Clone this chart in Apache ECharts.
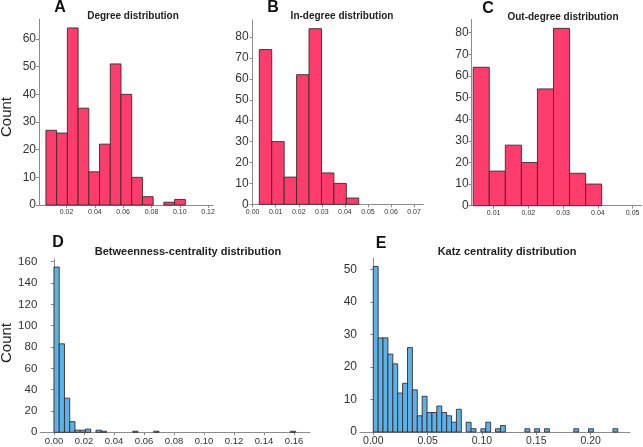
<!DOCTYPE html>
<html><head><meta charset="utf-8">
<script src="https://cdn.jsdelivr.net/npm/echarts@6/dist/echarts.min.js"></script>
<style>html,body{margin:0;padding:0;background:#fff}#c{width:643px;height:447px}</style>
</head><body><div id="c"></div>
<script>
// ---- data ----
const degreeCounts    = [27,26,64,35,12,22,51,40,10,3,0,1,2];
const degreeBinStart  = 0.0054, degreeBinWidth = 0.00758;
const inDegreeCounts  = [74,30,13,62,84,15,10,3];
const inDegreeBinStart = 0.0029, inDegreeBinWidth = 0.00539;
const outDegreeCounts = [64,16,28,20,54,82,15,10];
const outDegreeBinStart = 0.00413, outDegreeBinWidth = 0.00462;
const betweennessCounts = [155,83,32,10,2,2,3,0,2,1, 0,0,0,0,0,1,0,0,0,1, 0,0,0,0,0,0,0,0,0,0, 0,0,0,0,0,0,0,0,0,0, 0,0,0,0,0,1];
const betweennessBinStart = 0, betweennessBinWidth = 0.0035;
const katzCounts = [51,29,29,24,21,12,15,26,13,5, 11,6,6,8,6,5,3,7,0,3, 1,0,1,3,0,1,2,0,0,0, 0,1,0,1,0,1,0,0,0,0, 0,1,0,0,1,0,0,0,0,1];
const katzBinStart = 0, katzBinWidth = 0.0045;

const degreeTicks = [0.02,0.04,0.06,0.08,0.10,0.12];
const inDegreeTicks = [0,0.01,0.02,0.03,0.04,0.05,0.06,0.07];
const outDegreeTicks = [0.01,0.02,0.03,0.04,0.05];
const betweennessTicks = [0,0.02,0.04,0.06,0.08,0.10,0.12,0.14,0.16];
const katzTicks = [0,0.05,0.10,0.15,0.20];

const panelLetters = ['A','B','C','D','E'];
const panelTitles = ['Degree distribution','In-degree distribution','Out-degree distribution','Betweenness-centrality distribution','Katz centrality distribution'];
const yLabel = 'Count';

// ---- build ----
const FONT = 'Liberation Sans, Arial, sans-serif';
const PINK = '#ff3d6c', BLUE = '#5ab3e8';

function bins(start, width, counts){
  return counts.map((c,i)=>[start+i*width, start+(i+1)*width, c]);
}
const panels = [
  {data: bins(degreeBinStart, degreeBinWidth, degreeCounts), ticks: degreeTicks, xmin:0.0005, xmax:0.1235, ymax:67.2, yint:10,
   grid:{left:39, top:19.1, width:174, height:185.9}, color:PINK, xfs:7, yfs:12, dec:2},
  {data: bins(inDegreeBinStart, inDegreeBinWidth, inDegreeCounts), ticks: inDegreeTicks, xmin:-0.0004, xmax:0.074, ymax:88.2, yint:10,
   grid:{left:251.7, top:19.9, width:171.6, height:184.4}, color:PINK, xfs:7, yfs:12, dec:2},
  {data: bins(outDegreeBinStart, outDegreeBinWidth, outDegreeCounts), ticks: outDegreeTicks, xmin:0.0037, xmax:0.0526, ymax:86.1, yint:10,
   grid:{left:471.7, top:19.5, width:170, height:186.2}, color:PINK, xfs:7, yfs:12, dec:2},
  {data: bins(betweennessBinStart, betweennessBinWidth, betweennessCounts), ticks: betweennessTicks, xmin:-0.0091, xmax:0.1706, ymax:162.75, yint:20,
   grid:{left:40.3, top:258.8, width:269.7, height:173.5}, color:BLUE, xfs:9.5, yfs:11.5, dec:2},
  {data: bins(katzBinStart, katzBinWidth, katzCounts), ticks: katzTicks, xmin:-0.0122, xmax:0.2362, ymax:53.55, yint:10,
   grid:{left:360, top:258.2, width:270, height:174.1}, color:BLUE, xfs:10.5, yfs:12, dec:2}
];

const option = {animation:false, backgroundColor:'#fff', grid:[], xAxis:[], yAxis:[], series:[], graphic:[]};
const axisCol = '#8c8c8c', labCol = '#333';
panels.forEach((p,i)=>{
  option.grid.push(Object.assign({containLabel:false}, p.grid));
  option.xAxis.push({type:'value', gridIndex:i, min:p.xmin, max:p.xmax, splitLine:{show:false},
    axisLine:{show:true, lineStyle:{color:axisCol, width:1}},
    axisTick:{show:true, customValues:p.ticks, length:3, lineStyle:{color:axisCol}},
    axisLabel:{customValues:p.ticks, color:labCol, fontSize:p.xfs, fontFamily:FONT, margin:4,
      formatter:v=>v.toFixed(p.dec)}});
  option.yAxis.push({type:'value', gridIndex:i, min:0, max:p.ymax, interval:p.yint, splitLine:{show:false},
    axisLine:{show:true, lineStyle:{color:axisCol, width:1}},
    axisTick:{show:true, length:3, lineStyle:{color:axisCol}},
    axisLabel:{color:labCol, fontSize:p.yfs, fontFamily:FONT, margin:3,
      showMaxLabel:false}});
  option.series.push({type:'custom', xAxisIndex:i, yAxisIndex:i, data:p.data.filter(d=>d[2]>0),
    encode:{x:[0,1], y:2},
    renderItem:(params, api)=>{
      const a = api.coord([api.value(0), 0]);
      const b = api.coord([api.value(1), api.value(2)]);
      return {type:'rect', shape:{x:a[0], y:b[1], width:b[0]-a[0], height:a[1]-b[1]},
        style:{fill:p.color, stroke:'#3a2a2e', lineWidth:0.9}};
    }});
});
// letters & titles
const letterPos = [[60,8],[273,8],[488,9],[58,243],[381,244]];
const titlePos = [[133,16],[342,16],[563,17],[188,252],[507,252]];
panels.forEach((p,i)=>{
  option.graphic.push({type:'text', x:letterPos[i][0], y:letterPos[i][1],
    style:{text:panelLetters[i], font:'bold 16px '+FONT, fill:'#111', align:'center', verticalAlign:'middle'}});
  option.graphic.push({type:'text', x:titlePos[i][0], y:titlePos[i][1],
    style:{text:panelTitles[i], font:'bold '+(i<3?10:11)+'px '+FONT, fill:'#222', align:'center', verticalAlign:'middle'}});
});
option.graphic.push({type:'text', x:7, y:117, rotation:Math.PI/2,
  style:{text:yLabel, font:'15px '+FONT, fill:'#222', align:'center', verticalAlign:'middle'}});
option.graphic.push({type:'text', x:7, y:343, rotation:Math.PI/2,
  style:{text:yLabel, font:'15px '+FONT, fill:'#222', align:'center', verticalAlign:'middle'}});

const chart = echarts.init(document.getElementById('c'), null, {renderer:'canvas'});
chart.setOption(option);
</script></body></html>
